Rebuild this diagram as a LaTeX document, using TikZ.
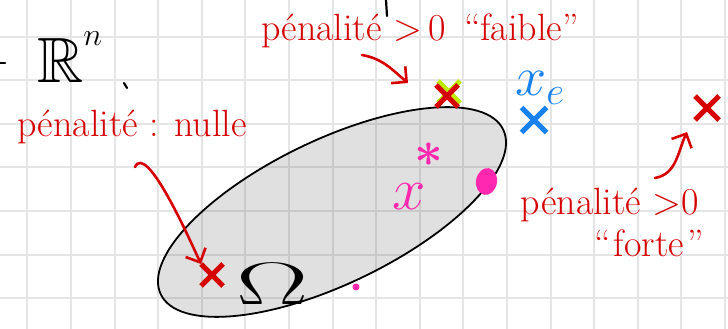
\RequirePackage{fix-cm}
\documentclass[tikz,border=0pt]{standalone}
\usepackage{amssymb}
\usetikzlibrary{positioning,arrows.meta,shapes.misc,shapes.geometric}

\definecolor{penred}{RGB}{214,0,0}
\definecolor{penblue}{RGB}{25,130,240}
\definecolor{penpink}{RGB}{255,40,175}
\definecolor{penlime}{RGB}{190,235,0}
\definecolor{gridgray}{RGB}{229,229,229}

\begin{document}
\begin{tikzpicture}[
  x=1pt, y=1pt,
  gridline/.style={draw=gridgray, line width=2pt},
  note/.style={text=penred, font=\fontsize{38}{42}\selectfont, inner sep=0pt},
  pointer/.style={draw=penred, line width=2.6pt, line cap=round,
    -{Straight Barb[length=11pt,width=22pt,line width=2.6pt]}},
  penmark/.style={cross out, line width=5pt, minimum size=17pt, inner sep=0pt},
  scribble/.style={line width=2.2pt, line cap=round},
]
  \useasboundingbox (0,0) rectangle (728,329);

  % squared paper
  \foreach \k in {0,...,16}
    \draw[gridline] (27.3+43.6*\k,0) -- (27.3+43.6*\k,329);
  \foreach \k in {0,...,6}
    \draw[gridline] (0,292.3-43.6*\k) -- (728,292.3-43.6*\k);

  % the set Omega
  \node[ellipse, draw, line width=1.8pt, fill=black, fill opacity=0.12,
    minimum width=380pt, minimum height=144pt, inner sep=0pt, rotate=25.7]
    (omegaset) at (332,117) {};
  \node[font=\fontsize{60}{60}\selectfont, inner sep=0pt] (omega) at (273,45)
    {\scalebox{1.8}[1]{$\Omega$}};
  \node[anchor=base west, font=\fontsize{64}{66}\selectfont, inner sep=0pt]
    (space) at (37,246) {$\mathbb{R}^{\raisebox{14pt}{$\scriptscriptstyle n$}}$};

  % points
  \node[penmark, draw=penlime] (limemark) at (449,237) {};
  \node[penmark, draw=penred] (crosstop) at (447,233) {};
  \node[penmark, draw=penred] (crossleft) at (212,54) {};
  \node[penmark, draw=penred, minimum size=19pt] (crossfar) at (707,221) {};
  \node[penmark, draw=penblue, minimum size=20pt] (crossblue) at (534,209) {};
  \node[text=penpink, font=\fontsize{50}{50}\selectfont\boldmath, inner sep=0pt]
    (xstar) at (429,174) {$\ast$};
  \node[ellipse, fill=penpink, minimum width=21pt, minimum height=27pt,
    inner sep=0pt, rotate=-10] (bigdot) at (486.5,147.5) {};
  \node[circle, fill=penpink, minimum size=7pt, inner sep=0pt] (smalldot) at (356,42) {};

  \node[text=penblue, font=\fontsize{56}{56}\selectfont, inner sep=0pt] (xe) at (540,241) {$x_e$};
  \node[text=penpink, font=\fontsize{60}{60}\selectfont, inner sep=0pt] (xsol) at (409,132) {$x$};

  % labels
  \node[note, anchor=base] (faiblelabel) at (420,288) {pénalité >\,0\hspace{18pt}“faible”};
  \node[note, anchor=base] (nullelabel) at (132,192) {pénalité : nulle};
  \node[note, anchor=base] (fortetop) at (610,114) {pénalité >0};
  \node[note, anchor=base] (fortebot) at (649,72) {“\hspace{3pt}forte\hspace{3pt}”};

  \draw[pointer] ([xshift=-58pt,yshift=-14pt]faiblelabel.base)
    to[out=-10, in=140] ([xshift=-39pt,yshift=13pt]crosstop.center);
  \draw[pointer] ([xshift=3pt,yshift=-30pt]nullelabel.base)
    to[out=65, in=115, looseness=0.6] ([xshift=-11pt,yshift=11pt]crossleft.center);
  \draw[pointer] ([xshift=45pt,yshift=37pt]fortetop.base)
    to[out=10, in=-115] ([xshift=-20pt,yshift=-24pt]crossfar.center);

  % stray strokes
  \draw[scribble] (0,266) -- (5,266);
  \draw[scribble] (124,246) -- (127,241);
  \draw[scribble] (386,329) -- (387,313);
\end{tikzpicture}
\end{document}
